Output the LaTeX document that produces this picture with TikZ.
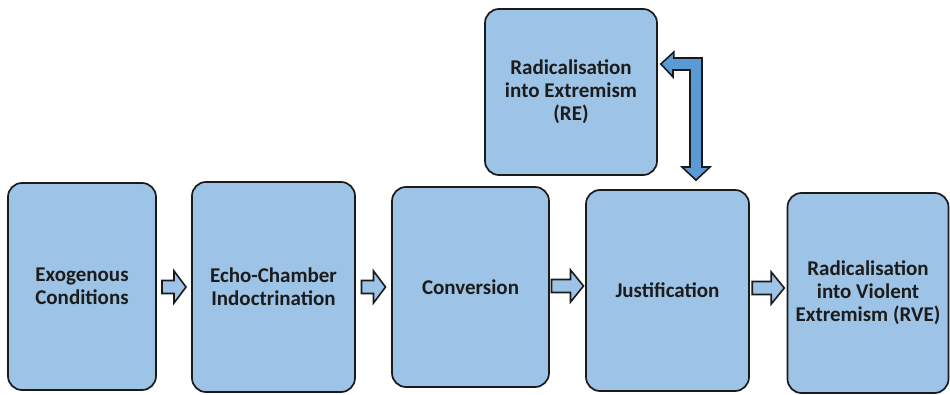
\documentclass[tikz,border=0pt]{standalone}
\usepackage{fontspec}
\setmainfont{Carlito}
\usetikzlibrary{calc}
\definecolor{boxblue}{HTML}{9DC3E6}
\definecolor{loopblue}{HTML}{5B9BD5}
\definecolor{edge}{HTML}{1A1A1A}
\definecolor{ink}{HTML}{1C1C1C}
\tikzset{
  stagebox/.style={draw=edge, fill=boxblue, line width=1.7pt, rounded corners=14pt,
    align=center, text=ink, font=\bfseries\fontsize{21}{22.8}\selectfont, inner sep=0pt},
  blockarrow/.style={draw=edge, fill=boxblue, line width=1.6pt, line join=miter},
  looparrow/.style={draw=edge, fill=loopblue, line width=1.6pt, line join=miter}
}
% block arrow centred on #1, total length #2 (pt), head length #3 (pt)
\newcommand\flowarrow[3]{%
  \draw[blockarrow] ($(#1)+(-#2/2,-6.5)$) -- ++(0,13) -- ++(#2-#3,0) -- ++(0,9.5)
    -- ++(#3,-16) -- ++(-#3,-16) -- ++(0,9.5) -- cycle;}
\begin{document}
\begin{tikzpicture}[x=1pt,y=1pt]
\useasboundingbox (0,0) rectangle (950,394);

% stage boxes
\node[stagebox, minimum width=148, minimum height=207] (exo) at (82,107.5) {Exogenous\\Conditions};
\node[stagebox, minimum width=163, minimum height=210] (echo) at (273.5,107) {Echo-Chamber\\Indoctrination};
\node[stagebox, minimum width=157, minimum height=200] (conv) at (470.5,107) {Conversion};
\node[stagebox, minimum width=163, minimum height=201] (just) at (667.5,103.5) {Justification};
\node[stagebox, minimum width=161, minimum height=200] (rve) at (868,101) {Radicalisation\\into Violent\\Extremism (RVE)};
\node[stagebox, minimum width=172, minimum height=166] (re) at (571,302) {Radicalisation\\into Extremism\\(RE)};

% arrows between consecutive stages
\coordinate (a1) at ($(exo.east)!0.5!(echo.west)$);
\coordinate (a2) at ($(echo.east)!0.5!(conv.west)$);
\coordinate (a3) at ($(conv.east)!0.5!(just.west)$);
\coordinate (a4) at ($(just.east)!0.5!(rve.west)$);
\flowarrow{a1 |- 0,107}{24}{12}
\flowarrow{a2 |- 0,107}{24}{12}
\flowarrow{a3 |- 0,108}{32}{13}
\flowarrow{a4 |- 0,106}{32}{13}

% two-way bent arrow between Justification and RE
\coordinate (tipL) at ($(re.east |- 0,330)+(3,0)$);
\coordinate (tipD) at ($(just.north)+(28.5,9)$);
\draw[looparrow] (tipL) -- ++(13,12) -- ++(0,-6) -- (702,336) -- (702,227)
  -- ++(8,0) -- (tipD) -- (682,227) -- ++(8,0) -- (690,324) -- (673,324)
  -- ++(0,-7) -- cycle;
\end{tikzpicture}
\end{document}
